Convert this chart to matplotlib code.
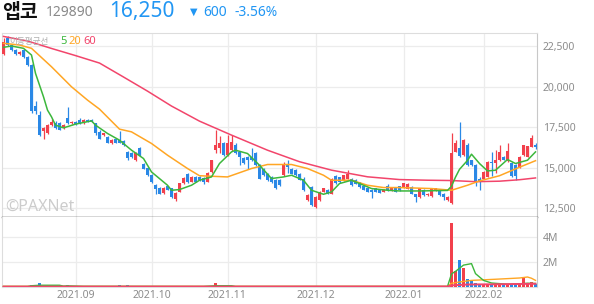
import matplotlib
matplotlib.use("Agg")
import matplotlib.pyplot as plt
import numpy as np

# ---------------- data ----------------
opens = [22000,22980,22560,22250,22000,22250,21820,21330,18800,18240,
         17250,17150,17620,17770,17750,17420,18060,17730,17830,17970,
         17730,17970,17930,17730,17210,17000,16900,16500,16740,16700,
         16640,15980,15920,15460,16190,15250,14990,14540,13920,13720,
         13440,13860,13720,13100,13510,14060,14600,14120,14430,14430,
         14340,14150,14740,16080,16190,16500,15770,16080,16390,15980,
         15570,15670,15670,15880,15150,14950,14640,14430,14270,14230,
         14540,15250,14950,14850,14640,14330,13040,13820,12580,13000,
         13510,13650,13410,14480,14400,14230,14330,14330,14230,14120,
         13860,13720,13650,13720,13650,13510,13860,13580,13800,13860,
         13780,13700,13820,13370,13200,13650,13300,13250,13610,13650,
         13400,12990,12800,15980,16190,15770,16390,15460,15150,14330,
         14330,14430,15360,15260,15460,15670,15400,15280,15150,15040,
         15770,15670,16280,16390]
highs = [23000,23100,22650,22300,22200,22300,21900,21400,19100,18500,
         17520,17700,18000,17850,17800,17700,18750,17900,17900,18050,
         17980,18000,17980,17780,17300,17150,16950,16750,16800,17250,
         16700,16050,15980,15950,16250,15300,15050,14600,14000,13800,
         13800,13900,13750,13480,14080,14420,14650,14460,14500,14480,
         14400,14760,15480,17320,16930,16600,17000,17000,16500,16050,
         15650,15750,16190,15950,15200,15000,14700,14500,14300,14280,
         15350,15500,15000,14900,14700,14400,13350,13850,13250,13550,
         13750,13700,14380,14550,14450,14580,14850,14380,14280,14150,
         13900,13760,13700,13760,13680,13680,14000,13820,13840,13900,
         14080,14030,13860,13400,13750,13700,13450,13760,13760,13700,
         13430,13230,17110,16700,17830,16750,16500,15500,15200,14400,
         14800,15400,15980,16080,16400,15750,16500,15350,15200,15700,
         16400,16350,17000,16500]
lows = [21950,22500,22200,21950,21950,21750,21250,18400,18300,16950,
        16740,17100,17550,17400,17300,17380,17700,17700,17650,17700,
        17700,17800,17800,17000,16750,16950,16500,16450,16500,16500,
        16350,15500,15600,15400,15700,14900,14500,14080,13400,13380,
        13400,13600,13150,12950,13480,14000,14080,14100,14100,14200,
        14000,14120,14700,15900,15900,15700,15750,16000,15850,15150,
        15200,14950,15400,15100,14300,14500,14200,14050,13700,13850,
        14500,14700,14600,14500,14220,13550,12950,12650,12500,12950,
        13480,13380,13380,14000,14080,14200,14300,13880,13980,13780,
        13600,13480,13150,13480,13420,13480,13580,13550,13480,13580,
        13750,13680,13380,12880,13150,13270,13280,13220,13580,13270,
        12990,12960,12790,15950,15680,15740,15100,15100,13900,13610,
        14300,14400,14500,14700,15400,15450,15350,14400,14230,15000,
        15700,15650,16250,16150]
closes = [22770,22560,22250,22000,22130,21820,21330,18500,18500,17000,
          17450,17620,17830,17420,17310,17620,17750,17830,17690,17730,
          17930,17830,17830,17110,16800,17110,16530,16700,16530,16550,
          16390,15570,15670,15880,15770,14940,14540,14120,13700,13410,
          13780,13650,13200,13440,14030,14390,14120,14430,14120,14230,
          14120,14700,15460,16390,16500,15770,16500,16590,15900,15670,
          15260,15460,15460,15150,14330,14540,14230,14120,13780,13920,
          15250,15050,14640,14540,14270,13610,13300,12690,13200,13510,
          13720,13410,14330,14060,14120,14540,14640,13920,14020,13820,
          13650,13510,13490,13510,13450,13650,13610,13790,13510,13610,
          14030,13990,13410,13200,13720,13300,13410,13720,13720,13300,
          13200,13200,15880,16500,15710,16700,15150,15150,14120,14150,
          14740,15360,15260,15460,15980,15500,16000,14480,14480,15670,
          16390,16330,16850,16250]
volumes = [40e3,40e3,40e3,40e3,40e3,40e3,50e3,200e3,200e3,320e3,
           60e3,50e3,40e3,40e3,40e3,40e3,200e3,40e3,40e3,40e3,
           40e3,40e3,40e3,40e3,40e3,40e3,40e3,40e3,40e3,130e3,
           40e3,130e3,40e3,40e3,40e3,120e3,120e3,40e3,40e3,120e3,
           40e3,40e3,40e3,40e3,40e3,40e3,40e3,40e3,40e3,40e3,
           40e3,40e3,40e3,300e3,60e3,50e3,40e3,40e3,40e3,40e3,
           40e3,40e3,40e3,40e3,40e3,40e3,40e3,40e3,40e3,40e3,
           40e3,40e3,40e3,40e3,40e3,40e3,40e3,40e3,40e3,40e3,
           40e3,40e3,40e3,40e3,40e3,40e3,40e3,40e3,40e3,40e3,
           40e3,40e3,40e3,40e3,40e3,40e3,40e3,40e3,40e3,40e3,
           40e3,40e3,40e3,40e3,40e3,40e3,40e3,40e3,40e3,40e3,
           40e3,40e3,5120e3,1250e3,2200e3,1520e3,620e3,540e3,320e3,220e3,
           220e3,240e3,200e3,230e3,220e3,250e3,230e3,220e3,240e3,250e3,
           700e3,220e3,400e3,250e3]

# moving-average lines (index, value)
ma5_idx = [0,2,5,7,8,10,11,12,13,15,18,22,23,26,29,32,35,37,41,42,44,47,49,52,54,57,58,61,64,67,70,72,75,77,80,82,84,87,89,92,96,99,104,111,112,113,114,116,117,119,121,123,126,128,131,133]
ma5_val = [22420,22500,22358,21944,20815,19370,18549,18136,17623,17457,17685,17889,17623,17111,16697,16080,15567,14740,13920,13611,13654,13920,14228,14432,15259,15975,16080,15876,15154,14333,14432,14537,14228,13611,13364,13506,14024,14228,14024,13716,13611,13568,13568,13600,13860,14420,14900,15450,15833,15259,14802,14846,15506,15259,15463,15975]
ma20_idx = [0,4,7,12,17,21,24,29,32,37,41,46,49,56,62,66,72,76,80,82,87,91,95,99,107,112,116,119,124,129,133]
ma20_val = [22667,22562,22358,21222,19988,19167,18611,17377,17210,16494,15772,14951,14506,14432,14951,15198,15198,14951,14537,14228,14228,13920,13778,13778,13716,13611,13920,14185,14506,15031,15432]
ma60_idx = [0,6,12,18,24,30,36,42,49,57,66,74,82,91,99,106,112,118,124,129,133]
ma60_val = [23090,22810,22350,21910,21450,20590,19720,18800,17870,17010,16080,15370,14850,14440,14270,14230,14210,14140,14170,14260,14370]

vma5_idx = [0,6,7,9,14,15,16,20,50,53,57,58,111,112,113,115,117,118,120,122,126,129,131,133]
vma5_val = [0.04,0.04,0.10,0.14,0.14,0.07,0.09,0.05,0.04,0.10,0.10,0.04,0.04,1.05,1.25,1.75,1.87,1.07,0.53,0.32,0.22,0.25,0.30,0.28]
vma20_idx = [0,111,112,114,117,123,129,131,132,133]
vma20_val = [0.05,0.05,0.30,0.40,0.53,0.62,0.72,0.80,0.70,0.53]
vma60_idx = [0,111,112,116,120,126,133]
vma60_val = [0.03,0.04,0.13,0.20,0.21,0.23,0.26]

month_idx = [18, 37, 56, 78, 100, 120]
month_labels = ["2021.09", "2021.10", "2021.11", "2021.12", "2022.01", "2022.02"]
price_ticks = [12500, 15000, 17500, 20000, 22500]
vol_ticks = [2e6, 4e6]
vol_tick_labels = ["2M", "4M"]

# ---------------- style ----------------
UP = "#f2404c"
DOWN = "#2a88e6"
C5 = "#3cb73c"
C20 = "#ffa624"
C60 = "#f2456b"
GRID = "#ececec"
TXT = "#8c8c8c"
NUMFONT = ["Noto Sans", "DejaVu Sans"]
KFONT = ["Noto Sans CJK KR", "DejaVu Sans"]

W, H = 594, 304
fig = plt.figure(figsize=(W / 100, H / 100), dpi=100)

def axrect(x0, y0, x1, y1):
    return [x0 / W, 1 - y1 / H, (x1 - x0) / W, (y1 - y0) / H]

axp = fig.add_axes(axrect(2, 33, 537, 217))
axv = fig.add_axes(axrect(2, 217, 537, 287), sharex=axp)

n = len(closes)
x = np.arange(n)
o = np.array(opens); c = np.array(closes); h = np.array(highs); l = np.array(lows)
up = c >= o
cols = np.where(up, UP, DOWN)

# candles
axp.vlines(x, l, h, colors=cols, linewidth=0.9, zorder=3)
body_b = np.minimum(o, c)
body_h = np.maximum(np.abs(c - o), 40)
axp.bar(x, body_h, bottom=body_b, width=0.72, color=cols, linewidth=0, zorder=4)

axp.plot(ma60_idx, ma60_val, color=C60, lw=1.1, zorder=5)
axp.plot(ma20_idx, ma20_val, color=C20, lw=1.1, zorder=5)
axp.plot(ma5_idx, ma5_val, color=C5, lw=1.1, zorder=5)

axp.set_xlim(-0.375, n - 0.625)
axp.set_ylim(11963, 23302)
axp.set_yticks(price_ticks)
axp.set_yticklabels([f"{t:,}" for t in price_ticks])
axp.yaxis.tick_right()
axp.tick_params(axis="y", length=0, pad=4, labelsize=7.5, labelcolor=TXT)
axp.tick_params(axis="x", length=0, labelbottom=False)
axp.set_xticks(month_idx)
axp.grid(True, color=GRID, lw=0.9, zorder=0)
axp.set_axisbelow(True)
for lab in axp.get_yticklabels():
    lab.set_fontfamily(NUMFONT)
for s in ["top", "left"]:
    axp.spines[s].set_color("#dddddd")
axp.spines["right"].set_color("#c8c8c8")
axp.spines["bottom"].set_color("#333333")
axp.spines["bottom"].set_linewidth(1.0)

# legend text
axp.text(0.013, 0.955, "이동평균선", transform=axp.transAxes, fontsize=6.2,
         color="#b0b0b0", family=KFONT, va="center", ha="left", zorder=6)
axp.text(0.108, 0.955, "5", transform=axp.transAxes, fontsize=8, color=C5,
         family=NUMFONT, va="center", zorder=6)
axp.text(0.124, 0.955, "20", transform=axp.transAxes, fontsize=8, color=C20,
         family=NUMFONT, va="center", zorder=6)
axp.text(0.152, 0.955, "60", transform=axp.transAxes, fontsize=8, color=C60,
         family=NUMFONT, va="center", zorder=6)
# watermark
axp.text(0.006, 0.055, "©PAXNet", transform=axp.transAxes, fontsize=11.5,
         color="#cccccc", family=NUMFONT, fontweight="bold", va="center", zorder=2)

# volume
axv.bar(x, volumes, width=0.72, color=cols, linewidth=0, zorder=3)
axv.plot(vma20_idx, np.array(vma20_val) * 1e6, color=C20, lw=1.0, zorder=4)
axv.plot(vma5_idx, np.array(vma5_val) * 1e6, color=C5, lw=1.0, zorder=4)
axv.plot(vma60_idx, np.array(vma60_val) * 1e6, color=C60, lw=1.4, zorder=5)
axv.set_ylim(0, 5.6e6)
axv.set_yticks(vol_ticks)
axv.set_yticklabels(vol_tick_labels)
axv.yaxis.tick_right()
axv.tick_params(axis="y", length=0, pad=4, labelsize=7.5, labelcolor=TXT)
axv.set_xticks(month_idx)
axv.set_xticklabels(month_labels)
axv.tick_params(axis="x", length=0, pad=2, labelsize=7.5, labelcolor=TXT)
for lab in axv.get_xticklabels() + axv.get_yticklabels():
    lab.set_fontfamily(NUMFONT)
axv.grid(True, color=GRID, lw=0.9, zorder=0)
axv.set_axisbelow(True)
axv.spines["top"].set_visible(False)
axv.spines["left"].set_color("#dddddd")
axv.spines["right"].set_color("#c8c8c8")
axv.spines["bottom"].set_color("#dddddd")

# header
fig.text(2 / W, 1 - 12 / H, "앱코", fontsize=14, fontweight="bold", color="#111111",
         family=KFONT, va="center", ha="left")
fig.text(46 / W, 1 - 12 / H, "129890", fontsize=10, color="#8a8a8a",
         family=NUMFONT, va="center", ha="left")
fig.text(109 / W, 1 - 12 / H, "16,250", fontsize=15, color="#2196f3",
         family=NUMFONT, va="center", ha="left")
fig.text(190 / W, 1 - 12 / H, "▼", fontsize=7, color="#2196f3",
         family=["DejaVu Sans"], va="center", ha="left")
fig.text(203 / W, 1 - 12 / H, "600", fontsize=10, color="#2196f3",
         family=NUMFONT, va="center", ha="left")
fig.text(235 / W, 1 - 12 / H, "-3.56%", fontsize=10, color="#2196f3",
         family=NUMFONT, va="center", ha="left")

fig.savefig("out.png", dpi=100)
